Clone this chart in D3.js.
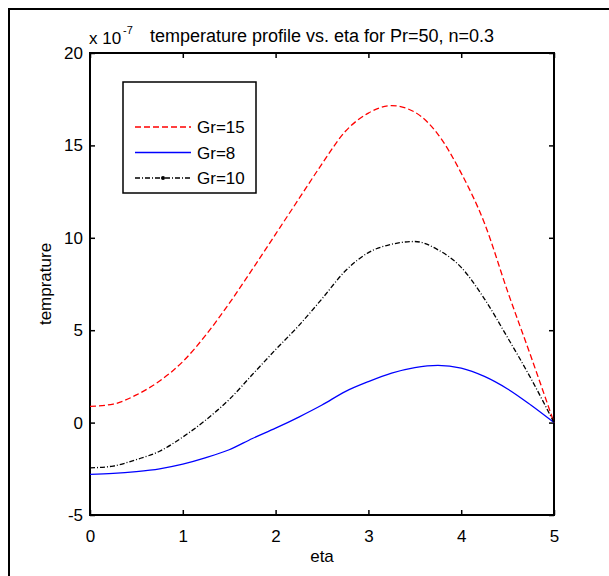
<!DOCTYPE html>
<html>
<head>
<meta charset="UTF-8">
<title>temperature profile</title>
<script src="https://cdn.jsdelivr.net/npm/d3@7"></script>
<style>
    body{ margin:0; background:#fff; }
    text{ font-family: Arial, "Liberation Sans", sans-serif; fill:#000; }
    .tick text{ font-size:17px; }
    .tick line{ stroke:#000; }
    .rotulo{ font-size:17px; }
</style>
</head>
<body>
<div id="grafico"></div>
<script>
var w = 609, h = 576;

// datos (unidades de 1e-7)
var eta = [0, 0.25, 0.5, 0.75, 1, 1.25, 1.5, 1.75, 2, 2.25, 2.5, 2.75, 3, 3.25, 3.5, 3.75, 4, 4.25, 4.5, 4.75, 5];
var gr15 = [0.88, 1.0, 1.5, 2.25, 3.3, 4.75, 6.45, 8.3, 10.2, 12.1, 14.0, 15.75, 16.75, 17.15, 16.8, 15.6, 13.5, 10.8, 7.1, 3.6, 0];
var gr8  = [-2.8, -2.75, -2.65, -2.5, -2.25, -1.9, -1.47, -0.86, -0.3, 0.3, 0.95, 1.68, 2.22, 2.68, 2.98, 3.1, 2.95, 2.5, 1.82, 0.95, 0];
var gr10 = [-2.45, -2.35, -2.0, -1.55, -0.78, 0.15, 1.25, 2.6, 3.95, 5.25, 6.7, 8.2, 9.2, 9.65, 9.8, 9.35, 8.4, 6.7, 4.6, 2.4, 0];
var xTicks = [0, 1, 2, 3, 4, 5];
var yTicks = [-5, 0, 5, 10, 15, 20];

var series = [
    {nombre: "Gr=15", valores: gr15, color: "#ff0000", dash: "6,3"},
    {nombre: "Gr=8",  valores: gr8,  color: "#0000ff", dash: null},
    {nombre: "Gr=10", valores: gr10, color: "#000000", dash: "5,2,1,2"}
];

var izq = 90, der = 554, arriba = 53, abajo = 515;

var xScale = d3.scaleLinear().domain([0, 5]).range([izq, der]);
var yScale = d3.scaleLinear().domain([-5, 20]).range([abajo, arriba]);

// guion normal en vez del signo menos de d3.format
var fmt = function(d){ return String(d); };

var svg = d3.select("#grafico").append("svg")
    .attr("width", w)
    .attr("height", h);

// marco exterior
svg.append("path")
    .attr("d", "M9," + h + " V9 H" + w)
    .attr("fill", "none")
    .attr("stroke", "#000")
    .attr("stroke-width", 2);

// ejes
svg.append("g")
    .attr("transform", "translate(0," + abajo + ")")
    .call(d3.axisBottom(xScale).tickValues(xTicks).tickSizeInner(-5).tickSizeOuter(0).tickPadding(15).tickFormat(fmt));
svg.append("g")
    .attr("transform", "translate(0," + arriba + ")")
    .call(d3.axisTop(xScale).tickValues(xTicks).tickSizeInner(-5).tickSizeOuter(0).tickFormat(""));
svg.append("g")
    .attr("transform", "translate(" + izq + ",0)")
    .call(d3.axisLeft(yScale).tickValues(yTicks).tickSizeInner(-5).tickSizeOuter(0).tickPadding(7).tickFormat(fmt));
svg.append("g")
    .attr("transform", "translate(" + der + ",0)")
    .call(d3.axisRight(yScale).tickValues(yTicks).tickSizeInner(-5).tickSizeOuter(0).tickFormat(""));
svg.selectAll(".domain").remove();
svg.selectAll(".tick line").attr("stroke-width", 1.5);

svg.append("rect")
    .attr("x", izq).attr("y", arriba)
    .attr("width", der - izq).attr("height", abajo - arriba)
    .attr("fill", "none").attr("stroke", "#000").attr("stroke-width", 2);

// lineas
var linea = d3.line()
    .x(function(d, i){ return xScale(eta[i]); })
    .y(function(d){ return yScale(d); })
    .curve(d3.curveMonotoneX);

series.forEach(function(s){
    svg.append("path")
        .attr("d", linea(s.valores))
        .attr("fill", "none")
        .attr("stroke", s.color)
        .attr("stroke-width", 1.3)
        .attr("stroke-dasharray", s.dash);
});

// textos
svg.append("text").attr("x", 89).attr("y", 44).attr("font-size", 17).text("x 10");
svg.append("text").attr("x", 123).attr("y", 34).attr("font-size", 11).text("-7");
svg.append("text").attr("x", 322).attr("y", 42).attr("text-anchor", "middle")
    .attr("font-size", 18).text("temperature profile vs. eta for Pr=50, n=0.3");
svg.append("text").attr("class", "rotulo").attr("x", 322).attr("y", 562)
    .attr("text-anchor", "middle").text("eta");
svg.append("text").attr("class", "rotulo")
    .attr("transform", "translate(51," + ((arriba + abajo) / 2) + ") rotate(-90)")
    .attr("text-anchor", "middle").text("temprature");

// leyenda
var ley = svg.append("g").attr("transform", "translate(123,82)");
ley.append("rect").attr("width", 133).attr("height", 111)
    .attr("fill", "#fff").attr("stroke", "#000").attr("stroke-width", 1.5);
series.forEach(function(s, i){
    var yy = 45 + i * 25.5;
    ley.append("line")
        .attr("x1", 12).attr("x2", 68).attr("y1", yy).attr("y2", yy)
        .attr("stroke", s.color).attr("stroke-width", 1.3)
        .attr("stroke-dasharray", s.dash);
    if (i == 2) {
        ley.append("circle").attr("cx", 40).attr("cy", yy).attr("r", 2).attr("fill", "#000");
    }
    ley.append("text").attr("x", 74).attr("y", yy + 6).attr("font-size", 17).text(s.nombre);
});
</script>
</body>
</html>
